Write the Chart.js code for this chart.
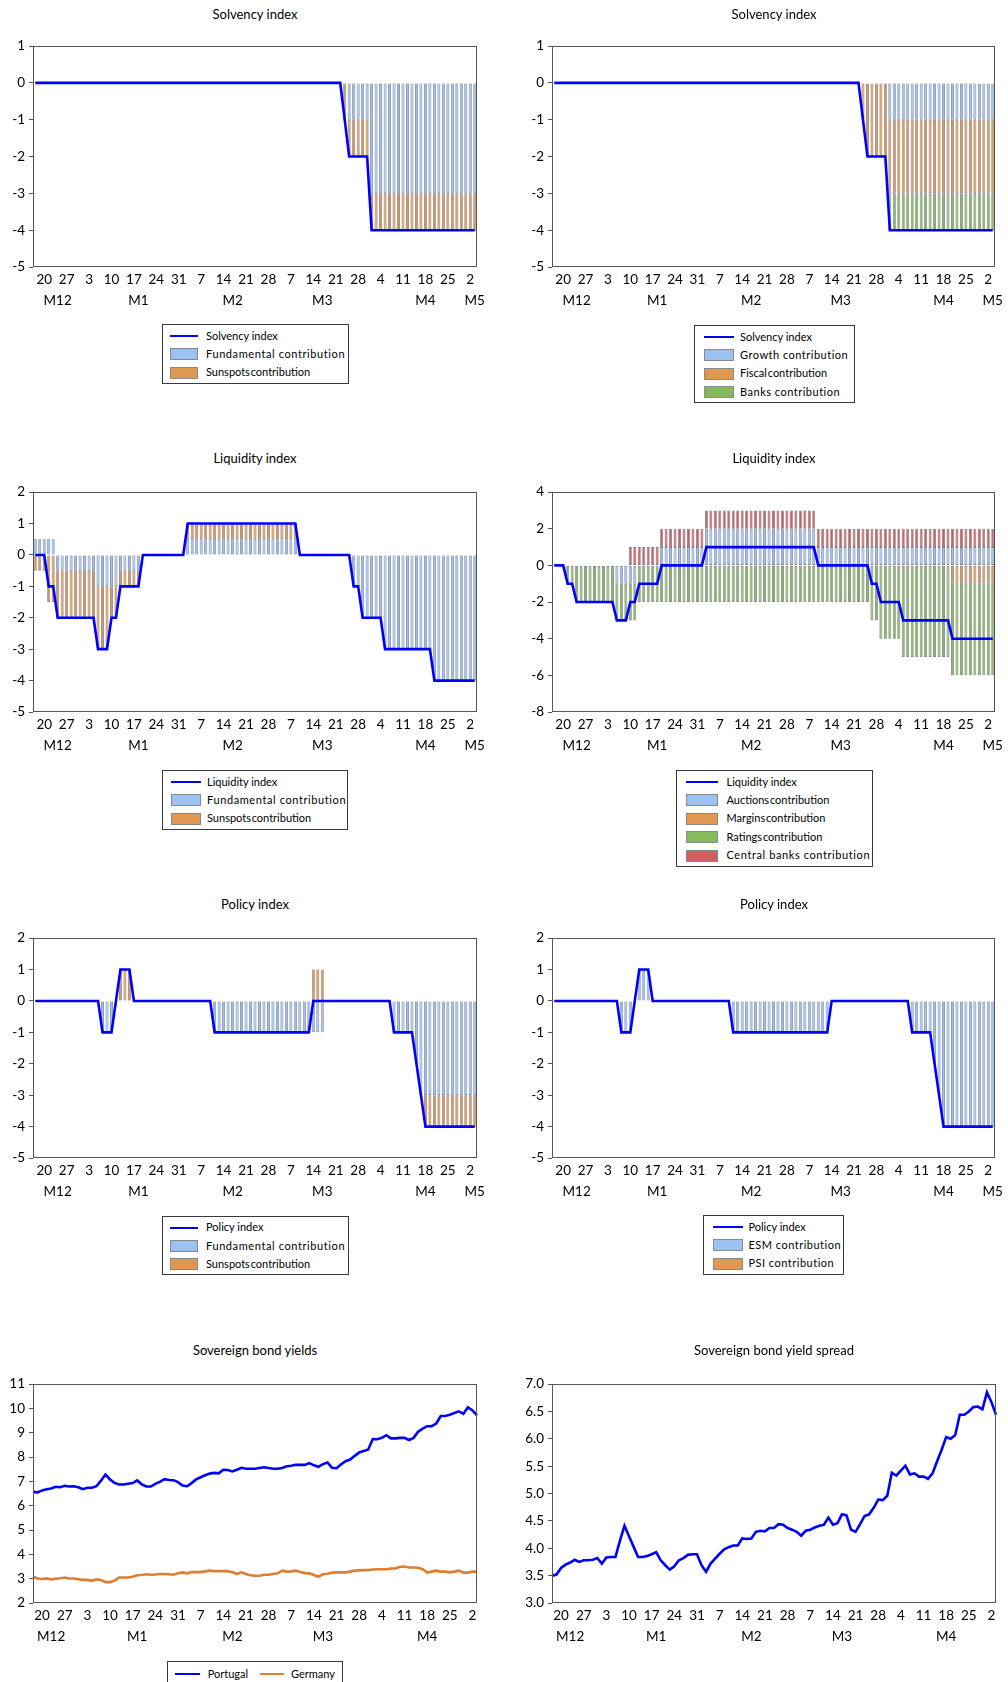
<!DOCTYPE html>
<html>
<head>
<meta charset="utf-8">
<script src="https://cdn.jsdelivr.net/npm/chart.js@4.4.0/dist/chart.umd.min.js"></script>
<style>
  html, body { margin: 0; padding: 0; background: #fff; overflow: hidden; }
  #page { position: relative; width: 1008px; height: 1682px; overflow: hidden; font-family: Lato, "Noto Sans", sans-serif; color: #000; }
  .ttl { position: absolute; text-align: center; font-size: 13px; line-height: 16px; white-space: nowrap; }
  .lg { position: absolute; border: 1px solid #3a3a3a; background: #fff; box-sizing: border-box; font-size: 11px; }
  .lg .sw { position: absolute; box-sizing: border-box; }
  .lg .tx { position: absolute; line-height: 16px; white-space: nowrap; }
</style>
</head>
<body>
<div id="page"></div>
<script>
// ---- Observation dates (business days) ----
const dates = [
  '2010-12-16','2010-12-17','2010-12-20','2010-12-21','2010-12-22','2010-12-23','2010-12-24','2010-12-27','2010-12-28','2010-12-29','2010-12-30','2010-12-31',
  '2011-01-03','2011-01-04','2011-01-05','2011-01-06','2011-01-07','2011-01-10','2011-01-11','2011-01-12','2011-01-13','2011-01-14',
  '2011-01-17','2011-01-18','2011-01-19','2011-01-20','2011-01-21','2011-01-24','2011-01-25','2011-01-26','2011-01-27','2011-01-28','2011-01-31',
  '2011-02-01','2011-02-02','2011-02-03','2011-02-04','2011-02-07','2011-02-08','2011-02-09','2011-02-10','2011-02-11','2011-02-14',
  '2011-02-15','2011-02-16','2011-02-17','2011-02-18','2011-02-21','2011-02-22','2011-02-23','2011-02-24','2011-02-25','2011-02-28',
  '2011-03-01','2011-03-02','2011-03-03','2011-03-04','2011-03-07','2011-03-08','2011-03-09','2011-03-10','2011-03-11','2011-03-14',
  '2011-03-15','2011-03-16','2011-03-17','2011-03-18','2011-03-21','2011-03-22','2011-03-23','2011-03-24','2011-03-25','2011-03-28',
  '2011-03-29','2011-03-30','2011-03-31',
  '2011-04-01','2011-04-04','2011-04-05','2011-04-06','2011-04-07','2011-04-08','2011-04-11','2011-04-12','2011-04-13','2011-04-14',
  '2011-04-15','2011-04-18','2011-04-19','2011-04-20','2011-04-21','2011-04-22','2011-04-25','2011-04-26','2011-04-27','2011-04-28','2011-04-29',
  '2011-05-02','2011-05-03'
];

// Weekly (Monday) tick dates and month labels
const weekTickDates = ['2010-12-20','2010-12-27','2011-01-03','2011-01-10','2011-01-17','2011-01-24','2011-01-31','2011-02-07','2011-02-14','2011-02-21',
  '2011-02-28','2011-03-07','2011-03-14','2011-03-21','2011-03-28','2011-04-04','2011-04-11','2011-04-18','2011-04-25','2011-05-02'];
const monthLabels = ['M12','M1','M2','M3','M4','M5'];
const monthDatesBars = ['2010-12-23','2011-01-18','2011-02-16','2011-03-16','2011-04-18','2011-05-03'];
const monthDatesLines = ['2010-12-22','2011-01-18','2011-02-16','2011-03-16','2011-04-18'];

// ---- Solvency ----
const solvencyIndex = [
  0,0,0,0,0,0,0,0,0,0, 0,0,0,0,0,0,0,0,0,0,
  0,0,0,0,0,0,0,0,0,0, 0,0,0,0,0,0,0,0,0,0,
  0,0,0,0,0,0,0,0,0,0, 0,0,0,0,0,0,0,0,0,0,
  0,0,0,0,0,0,0,0,0,-1, -2,-2,-2,-2,-2,-4,-4,-4,-4,-4,
  -4,-4,-4,-4,-4,-4,-4,-4,-4,-4, -4,-4,-4,-4,-4,-4,-4,-4,-4
];
const solvFundamental = [
  0,0,0,0,0,0,0,0,0,0, 0,0,0,0,0,0,0,0,0,0,
  0,0,0,0,0,0,0,0,0,0, 0,0,0,0,0,0,0,0,0,0,
  0,0,0,0,0,0,0,0,0,0, 0,0,0,0,0,0,0,0,0,0,
  0,0,0,0,0,0,0,0,0,0, -1,-1,-1,-1,-1,-3,-3,-3,-3,-3,
  -3,-3,-3,-3,-3,-3,-3,-3,-3,-3, -3,-3,-3,-3,-3,-3,-3,-3,-3
];
const solvSunspots = [
  0,0,0,0,0,0,0,0,0,0, 0,0,0,0,0,0,0,0,0,0,
  0,0,0,0,0,0,0,0,0,0, 0,0,0,0,0,0,0,0,0,0,
  0,0,0,0,0,0,0,0,0,0, 0,0,0,0,0,0,0,0,0,0,
  0,0,0,0,0,0,0,0,0,-1, -1,-1,-1,-1,-1,-1,-1,-1,-1,-1,
  -1,-1,-1,-1,-1,-1,-1,-1,-1,-1, -1,-1,-1,-1,-1,-1,-1,-1,-1
];
const solvGrowth = [
  0,0,0,0,0,0,0,0,0,0, 0,0,0,0,0,0,0,0,0,0,
  0,0,0,0,0,0,0,0,0,0, 0,0,0,0,0,0,0,0,0,0,
  0,0,0,0,0,0,0,0,0,0, 0,0,0,0,0,0,0,0,0,0,
  0,0,0,0,0,0,0,0,0,0, 0,0,0,0,0,-1,-1,-1,-1,-1,
  -1,-1,-1,-1,-1,-1,-1,-1,-1,-1, -1,-1,-1,-1,-1,-1,-1,-1,-1
];
const solvFiscal = [
  0,0,0,0,0,0,0,0,0,0, 0,0,0,0,0,0,0,0,0,0,
  0,0,0,0,0,0,0,0,0,0, 0,0,0,0,0,0,0,0,0,0,
  0,0,0,0,0,0,0,0,0,0, 0,0,0,0,0,0,0,0,0,0,
  0,0,0,0,0,0,0,0,0,-1, -2,-2,-2,-2,-2,-2,-2,-2,-2,-2,
  -2,-2,-2,-2,-2,-2,-2,-2,-2,-2, -2,-2,-2,-2,-2,-2,-2,-2,-2
];
const solvBanks = [
  0,0,0,0,0,0,0,0,0,0, 0,0,0,0,0,0,0,0,0,0,
  0,0,0,0,0,0,0,0,0,0, 0,0,0,0,0,0,0,0,0,0,
  0,0,0,0,0,0,0,0,0,0, 0,0,0,0,0,0,0,0,0,0,
  0,0,0,0,0,0,0,0,0,0, 0,0,0,0,0,-1,-1,-1,-1,-1,
  -1,-1,-1,-1,-1,-1,-1,-1,-1,-1, -1,-1,-1,-1,-1,-1,-1,-1,-1
];

// ---- Liquidity ----
const liquidityIndex = [
  0,0,0,-1,-1,-2,-2,-2,-2,-2, -2,-2,-2,-2,-3,-3,-3,-2,-2,-1,
  -1,-1,-1,-1,0,0,0,0,0,0, 0,0,0,0,1,1,1,1,1,1,
  1,1,1,1,1,1,1,1,1,1, 1,1,1,1,1,1,1,1,1,0,
  0,0,0,0,0,0,0,0,0,0, 0,-1,-1,-2,-2,-2,-2,-2,-3,-3,
  -3,-3,-3,-3,-3,-3,-3,-3,-3,-4, -4,-4,-4,-4,-4,-4,-4,-4,-4
];
const liqFundamental = [
  0.5,0.5,0.5,0.5,0.5,-0.5,-0.5,-0.5,-0.5,-0.5, -0.5,-0.5,-0.5,-0.5,-1,-1,-1,-1,-1,-0.5,
  -0.5,-0.5,-0.5,-0.5,0,0,0,0,0,0, 0,0,0,0,0.5,0.5,0.5,0.5,0.5,0.5,
  0.5,0.5,0.5,0.5,0.5,0.5,0.5,0.5,0.5,0.5, 0.5,0.5,0.5,0.5,0.5,0.5,0.5,0.5,0.5,0,
  0,0,0,0,0,0,0,0,0,0, 0,-1,-1,-2,-2,-2,-2,-2,-3,-3,
  -3,-3,-3,-3,-3,-3,-3,-3,-3,-4, -4,-4,-4,-4,-4,-4,-4,-4,-4
];
const liqSunspots = [
  -0.5,-0.5,-0.5,-1.5,-1.5,-1.5,-1.5,-1.5,-1.5,-1.5, -1.5,-1.5,-1.5,-1.5,-2,-2,-2,-1,-1,-0.5,
  -0.5,-0.5,-0.5,-0.5,0,0,0,0,0,0, 0,0,0,0,0.5,0.5,0.5,0.5,0.5,0.5,
  0.5,0.5,0.5,0.5,0.5,0.5,0.5,0.5,0.5,0.5, 0.5,0.5,0.5,0.5,0.5,0.5,0.5,0.5,0.5,0,
  0,0,0,0,0,0,0,0,0,0, 0,0,0,0,0,0,0,0,0,0,
  0,0,0,0,0,0,0,0,0,0, 0,0,0,0,0,0,0,0,0
];
const liqAuctions = [
  0,0,0,0,0,0,0,0,0,0, 0,0,0,0,-1,-1,-1,-1,-1,0,
  0,0,0,0,1,1,1,1,1,1, 1,1,1,1,2,2,2,2,2,2,
  2,2,2,2,2,2,2,2,2,2, 2,2,2,2,2,2,2,2,2,1,
  1,1,1,1,1,1,1,1,1,1, 1,1,1,1,1,1,1,1,1,1,
  1,1,1,1,1,1,1,1,1,1, 1,1,1,1,1,1,1,1,1
];
const liqMargins = [
  0,0,0,0,0,0,0,0,0,0, 0,0,0,0,0,0,0,0,0,0,
  0,0,0,0,0,0,0,0,0,0, 0,0,0,0,0,0,0,0,0,0,
  0,0,0,0,0,0,0,0,0,0, 0,0,0,0,0,0,0,0,0,0,
  0,0,0,0,0,0,0,0,0,0, 0,0,0,0,0,0,0,0,0,0,
  0,0,0,0,0,0,0,0,0,-1, -1,-1,-1,-1,-1,-1,-1,-1,-1
];
const liqRatings = [
  0,0,0,-1,-1,-2,-2,-2,-2,-2, -2,-2,-2,-2,-2,-2,-2,-2,-2,-2,
  -2,-2,-2,-2,-2,-2,-2,-2,-2,-2, -2,-2,-2,-2,-2,-2,-2,-2,-2,-2,
  -2,-2,-2,-2,-2,-2,-2,-2,-2,-2, -2,-2,-2,-2,-2,-2,-2,-2,-2,-2,
  -2,-2,-2,-2,-2,-2,-2,-2,-2,-2, -2,-3,-3,-4,-4,-4,-4,-4,-5,-5,
  -5,-5,-5,-5,-5,-5,-5,-5,-5,-5, -5,-5,-5,-5,-5,-5,-5,-5,-5
];
const liqCentralBanks = [
  0,0,0,0,0,0,0,0,0,0, 0,0,0,0,0,0,0,1,1,1,
  1,1,1,1,1,1,1,1,1,1, 1,1,1,1,1,1,1,1,1,1,
  1,1,1,1,1,1,1,1,1,1, 1,1,1,1,1,1,1,1,1,1,
  1,1,1,1,1,1,1,1,1,1, 1,1,1,1,1,1,1,1,1,1,
  1,1,1,1,1,1,1,1,1,1, 1,1,1,1,1,1,1,1,1
];

// ---- Policy ----
const policyIndex = [
  0,0,0,0,0,0,0,0,0,0, 0,0,0,0,0,-1,-1,-1,0,1,
  1,1,0,0,0,0,0,0,0,0, 0,0,0,0,0,0,0,0,0,0,
  -1,-1,-1,-1,-1,-1,-1,-1,-1,-1, -1,-1,-1,-1,-1,-1,-1,-1,-1,-1,
  -1,-1,0,0,0,0,0,0,0,0, 0,0,0,0,0,0,0,0,0,0,
  -1,-1,-1,-1,-1,-2,-3,-4,-4,-4, -4,-4,-4,-4,-4,-4,-4,-4,-4
];
const polFundamental = [
  0,0,0,0,0,0,0,0,0,0, 0,0,0,0,0,-1,-1,-1,0,0,
  0,0,0,0,0,0,0,0,0,0, 0,0,0,0,0,0,0,0,0,0,
  -1,-1,-1,-1,-1,-1,-1,-1,-1,-1, -1,-1,-1,-1,-1,-1,-1,-1,-1,-1,
  -1,-1,-1,-1,-1,0,0,0,0,0, 0,0,0,0,0,0,0,0,0,0,
  -1,-1,-1,-1,-1,-2,-3,-3,-3,-3, -3,-3,-3,-3,-3,-3,-3,-3,-3
];
const polSunspots = [
  0,0,0,0,0,0,0,0,0,0, 0,0,0,0,0,0,0,0,0,1,
  1,1,0,0,0,0,0,0,0,0, 0,0,0,0,0,0,0,0,0,0,
  0,0,0,0,0,0,0,0,0,0, 0,0,0,0,0,0,0,0,0,0,
  0,0,1,1,1,0,0,0,0,0, 0,0,0,0,0,0,0,0,0,0,
  0,0,0,0,0,0,0,-1,-1,-1, -1,-1,-1,-1,-1,-1,-1,-1,-1
];
const polESM = [
  0,0,0,0,0,0,0,0,0,0, 0,0,0,0,0,-1,-1,-1,0,1,
  1,1,0,0,0,0,0,0,0,0, 0,0,0,0,0,0,0,0,0,0,
  -1,-1,-1,-1,-1,-1,-1,-1,-1,-1, -1,-1,-1,-1,-1,-1,-1,-1,-1,-1,
  -1,-1,0,0,0,0,0,0,0,0, 0,0,0,0,0,0,0,0,0,0,
  -1,-1,-1,-1,-1,-2,-3,-4,-4,-4, -4,-4,-4,-4,-4,-4,-4,-4,-4
];
const polPSI = [
  0,0,0,0,0,0,0,0,0,0, 0,0,0,0,0,0,0,0,0,0,
  0,0,0,0,0,0,0,0,0,0, 0,0,0,0,0,0,0,0,0,0,
  0,0,0,0,0,0,0,0,0,0, 0,0,0,0,0,0,0,0,0,0,
  0,0,0,0,0,0,0,0,0,0, 0,0,0,0,0,0,0,0,0,0,
  0,0,0,0,0,0,0,0,0,0, 0,0,0,0,0,0,0,0,0
];

// ---- Sovereign 10y yields (%) ----
const portugal = [
  6.57,6.55,6.63,6.68,6.71,6.78,6.76,6.82,6.79,6.80,
  6.76,6.68,6.74,6.74,6.80,7.03,7.28,7.08,6.94,6.87,
  6.87,6.90,6.93,7.04,6.88,6.79,6.79,6.90,6.98,7.09,
  7.06,7.05,6.97,6.83,6.80,6.93,7.08,7.17,7.25,7.32,
  7.35,7.33,7.48,7.47,7.41,7.48,7.56,7.52,7.52,7.52,
  7.55,7.58,7.55,7.52,7.52,7.55,7.62,7.64,7.68,7.68,
  7.68,7.75,7.66,7.60,7.71,7.78,7.56,7.54,7.70,7.83,
  7.90,8.05,8.19,8.25,8.31,8.74,8.73,8.79,8.90,8.77,
  8.77,8.79,8.79,8.70,8.79,9.04,9.17,9.27,9.27,9.38,
  9.69,9.69,9.74,9.81,9.88,9.78,10.05,9.92,9.71
];
const germany = [
  3.08,3.01,2.99,3.01,2.97,3.00,3.02,3.05,3.01,3.01,
  2.98,2.95,2.95,2.91,2.97,2.95,2.86,2.86,2.92,3.05,
  3.05,3.05,3.08,3.14,3.15,3.18,3.16,3.17,3.19,3.19,
  3.18,3.16,3.22,3.26,3.22,3.27,3.27,3.27,3.30,3.33,
  3.31,3.31,3.31,3.31,3.26,3.19,3.26,3.19,3.14,3.12,
  3.12,3.16,3.16,3.19,3.22,3.33,3.29,3.30,3.33,3.27,
  3.23,3.22,3.15,3.08,3.18,3.20,3.25,3.26,3.26,3.26,
  3.29,3.33,3.34,3.35,3.35,3.38,3.39,3.39,3.39,3.42,
  3.42,3.49,3.50,3.46,3.46,3.45,3.39,3.25,3.29,3.33,
  3.29,3.29,3.26,3.29,3.33,3.25,3.25,3.29,3.29
];
const spread = [
  3.50,3.52,3.64,3.70,3.74,3.79,3.75,3.78,3.78,3.79,
  3.82,3.72,3.83,3.84,3.84,4.14,4.41,4.22,4.03,3.84,
  3.84,3.86,3.89,3.93,3.78,3.69,3.61,3.67,3.78,3.82,
  3.88,3.89,3.89,3.69,3.57,3.72,3.81,3.90,3.98,4.02,
  4.05,4.05,4.18,4.17,4.18,4.30,4.32,4.31,4.37,4.37,
  4.44,4.43,4.37,4.34,4.30,4.23,4.32,4.34,4.38,4.41,
  4.43,4.56,4.43,4.46,4.62,4.60,4.34,4.30,4.44,4.59,
  4.62,4.74,4.89,4.88,4.96,5.38,5.33,5.42,5.51,5.35,
  5.37,5.31,5.31,5.27,5.37,5.59,5.80,6.03,6.00,6.07,
  6.44,6.44,6.50,6.58,6.59,6.54,6.85,6.67,6.44
];

// ---- Styling ----
const FONT = 'Lato, "Noto Sans", sans-serif';
const INDEX_BLUE = '#0000ff';
const FILL = { blue: '#9cc2f4', orange: '#e0974f', green: '#86b95b', red: '#d25f5f' };
const GERMANY_ORANGE = '#e07d2e';
const BAR_EDGE = 'rgba(95,95,110,0.85)';
const AXIS_GREY = '#555555';

Chart.defaults.font.family = FONT;
Chart.defaults.color = '#000';

const page = document.getElementById('page');

// Box around the plot area
const framePlugin = {
  id: 'frame',
  afterDraw(chart) {
    const a = chart.chartArea, ctx = chart.ctx;
    const l = Math.round(a.left) + 0.5, t = Math.round(a.top) + 0.5;
    const r = Math.round(a.right) - 0.5, b = Math.round(a.bottom) - 0.5;
    ctx.save();
    ctx.strokeStyle = AXIS_GREY;
    ctx.lineWidth = 1;
    ctx.strokeRect(l, t, r - l, b - t);
    ctx.restore();
  }
};

const dayLabel = d => String(parseInt(d.slice(8), 10));

function xScales(offset, monthDates) {
  const tickFont = { family: FONT, size: 13.5 };
  return {
    x: {
      type: 'category', position: 'bottom', offset, stacked: true, weight: 0,
      grid: { display: false, drawTicks: false }, border: { display: false },
      ticks: {
        autoSkip: false, maxRotation: 0, minRotation: 0, padding: 5, color: '#000', font: tickFont,
        callback: (v, i) => weekTickDates.includes(dates[i]) ? dayLabel(dates[i]) : ''
      },
      afterFit: s => { s.height = 21; }
    },
    xm: {
      type: 'category', position: 'bottom', offset, weight: 1,
      grid: { display: false, drawTicks: false }, border: { display: false },
      ticks: {
        autoSkip: false, maxRotation: 0, minRotation: 0, padding: 5, color: '#000', font: tickFont,
        callback: (v, i) => { const k = monthDates.indexOf(dates[i]); return k >= 0 ? monthLabels[k] : ''; }
      },
      afterFit: s => { s.height = 22; }
    }
  };
}

function legendBox(spec, items) {
  if (!spec) return;
  const box = document.createElement('div');
  box.className = 'lg';
  const n = items.length;
  const h = spec.h || (spec.row0 + spec.dy * (n - 1) + 12);
  Object.assign(box.style, { left: spec.x + 'px', top: spec.y + 'px', width: spec.w + 'px', height: h + 'px' });
  items.forEach((it, k) => {
    const horiz = !!spec.cols;
    const cy = horiz ? spec.row0 : spec.row0 + spec.dy * k;
    const sx = horiz ? spec.cols[k].sx : spec.sx;
    const sw = horiz ? spec.cols[k].sw : spec.sw;
    const tx = horiz ? spec.cols[k].tx : spec.tx;
    const s = document.createElement('div');
    s.className = 'sw';
    if (it.kind === 'line') {
      Object.assign(s.style, { left: sx + 'px', top: (cy - 1) + 'px', width: sw + 'px', height: '2px', background: it.color });
    } else {
      Object.assign(s.style, { left: sx + 'px', top: (cy - 6) + 'px', width: sw + 'px', height: '12px', background: it.color, border: '1px solid #8a8a8a' });
    }
    box.appendChild(s);
    const t = document.createElement('div');
    t.className = 'tx';
    t.textContent = it.label;
    Object.assign(t.style, { left: tx + 'px', top: (cy - 8.5) + 'px', letterSpacing: (it.ls || 0) + 'px', wordSpacing: (it.ws || 0) + 'px' });
    box.appendChild(t);
  });
  page.appendChild(box);
}

function panel(p) {
  const [L, T, R, B] = p.plot;
  const PADT = 10;
  const W = p.cw, H = (B - T) + PADT + 21 + 22;
  const cv = document.createElement('canvas');
  cv.width = W; cv.height = H;
  cv.style.cssText = `position:absolute;left:${p.cl}px;top:${T - PADT}px;width:${W}px;height:${H}px;`;
  page.appendChild(cv);

  const ttl = document.createElement('div');
  ttl.className = 'ttl';
  ttl.textContent = p.title;
  Object.assign(ttl.style, { left: L + 'px', width: (R - L) + 'px', top: (p.titleY - 8) + 'px' });
  page.appendChild(ttl);

  const isBar = !!p.bars;
  const datasets = [];
  const legendItems = [];
  p.lines.forEach(ln => {
    datasets.push({
      type: 'line', label: ln.label, data: ln.data, borderColor: ln.color, borderWidth: 2.6,
      pointRadius: 0, pointHoverRadius: 0, tension: 0, fill: false, stack: 'index', order: 0
    });
    legendItems.push({ kind: 'line', label: ln.label, color: ln.color, ls: ln.ls, ws: ln.ws });
  });
  (p.bars || []).forEach(b => {
    datasets.push({
      type: 'bar', label: b.label, data: b.data.map(v => v === 0 ? null : v),
      backgroundColor: b.color, borderColor: BAR_EDGE, borderWidth: 0.8, borderSkipped: false,
      barPercentage: 0.66, categoryPercentage: 1.0, stack: 'parts', order: 1
    });
    legendItems.push({ kind: 'box', label: b.label, color: b.color, ls: b.ls, ws: b.ws });
  });

  const scales = xScales(isBar, isBar ? monthDatesBars : monthDatesLines);
  scales.y = {
    type: 'linear', position: 'left', min: p.yMin, max: p.yMax, stacked: isBar,
    grid: { drawOnChartArea: false, drawTicks: true, tickLength: 4, color: AXIS_GREY },
    border: { display: false },
    ticks: {
      stepSize: p.yStep, padding: 4, color: '#000', font: { family: FONT, size: 13.5 },
      callback: v => p.yDec ? Number(v).toFixed(p.yDec) : String(v)
    },
    afterFit: s => { s.width = L - p.cl; }
  };

  new Chart(cv, {
    type: isBar ? 'bar' : 'line',
    data: { labels: dates, datasets },
    options: {
      responsive: false, animation: false, devicePixelRatio: 1,
      layout: { padding: { top: PADT, right: p.cl + W - R, left: 0, bottom: 0 } },
      plugins: { legend: { display: false }, tooltip: { enabled: false }, title: { display: false } },
      scales
    },
    plugins: [framePlugin]
  });

  legendBox(p.legend, legendItems);
}

const LEFT = { cl: 0, cw: 512 };
const RIGHT = { cl: 508, cw: 500 };

// Row 1: solvency
panel({ ...LEFT, plot: [33, 44, 477, 267], title: 'Solvency index', titleY: 14, yMin: -5, yMax: 1, yStep: 1,
  lines: [{ label: 'Solvency index', data: solvencyIndex, color: INDEX_BLUE }],
  bars: [
    { label: 'Fundamental contribution', data: solvFundamental, color: FILL.blue, ls: 0.6 },
    { label: 'Sunspots contribution', data: solvSunspots, color: FILL.orange, ws: -2 }
  ],
  legend: { x: 161.7, y: 324, w: 187.3, sx: 7.6, sw: 28, tx: 43.3, row0: 11, dy: 18.4 } });

panel({ ...RIGHT, plot: [552, 44, 996, 267], title: 'Solvency index', titleY: 14, yMin: -5, yMax: 1, yStep: 1,
  lines: [{ label: 'Solvency index', data: solvencyIndex, color: INDEX_BLUE }],
  bars: [
    { label: 'Growth contribution', data: solvGrowth, color: FILL.blue, ls: 0.5 },
    { label: 'Fiscal contribution', data: solvFiscal, color: FILL.orange, ws: -2 },
    { label: 'Banks contribution', data: solvBanks, color: FILL.green, ls: 0.5 }
  ],
  legend: { x: 694, y: 325, w: 161, sx: 8.5, sw: 30, tx: 45, row0: 11, dy: 18.4 } });

// Row 2: liquidity
panel({ ...LEFT, plot: [33, 490, 477, 712], title: 'Liquidity index', titleY: 458, yMin: -5, yMax: 2, yStep: 1,
  lines: [{ label: 'Liquidity index', data: liquidityIndex, color: INDEX_BLUE }],
  bars: [
    { label: 'Fundamental contribution', data: liqFundamental, color: FILL.blue, ls: 0.6 },
    { label: 'Sunspots contribution', data: liqSunspots, color: FILL.orange, ws: -2 }
  ],
  legend: { x: 162, y: 770, w: 185.5, sx: 7.5, sw: 30, tx: 44, row0: 11, dy: 18.4 } });

panel({ ...RIGHT, plot: [552, 490, 996, 712], title: 'Liquidity index', titleY: 458, yMin: -8, yMax: 4, yStep: 2,
  lines: [{ label: 'Liquidity index', data: liquidityIndex, color: INDEX_BLUE }],
  bars: [
    { label: 'Auctions contribution', data: liqAuctions, color: FILL.blue, ws: -2 },
    { label: 'Margins contribution', data: liqMargins, color: FILL.orange, ws: -2 },
    { label: 'Ratings contribution', data: liqRatings, color: FILL.green, ws: -2 },
    { label: 'Central banks contribution', data: liqCentralBanks, color: FILL.red, ls: 0.6 }
  ],
  legend: { x: 675.5, y: 770, w: 197, sx: 9, sw: 32.5, tx: 50, row0: 11, dy: 18.4 } });

// Row 3: policy
panel({ ...LEFT, plot: [33, 936, 477, 1158], title: 'Policy index', titleY: 904, yMin: -5, yMax: 2, yStep: 1,
  lines: [{ label: 'Policy index', data: policyIndex, color: INDEX_BLUE }],
  bars: [
    { label: 'Fundamental contribution', data: polFundamental, color: FILL.blue, ls: 0.6 },
    { label: 'Sunspots contribution', data: polSunspots, color: FILL.orange, ws: -2 }
  ],
  legend: { x: 161.7, y: 1215.7, w: 187.3, sx: 7.6, sw: 28, tx: 43.3, row0: 11, dy: 18.4 } });

panel({ ...RIGHT, plot: [552, 936, 996, 1158], title: 'Policy index', titleY: 904, yMin: -5, yMax: 2, yStep: 1,
  lines: [{ label: 'Policy index', data: policyIndex, color: INDEX_BLUE }],
  bars: [
    { label: 'ESM contribution', data: polESM, color: FILL.blue, ls: 0.5 },
    { label: 'PSI contribution', data: polPSI, color: FILL.orange, ls: 0.5 }
  ],
  legend: { x: 703.4, y: 1215, w: 140.5, sx: 8.6, sw: 30, tx: 44, row0: 11, dy: 18.4 } });

// Row 4: yields and spread
panel({ ...LEFT, plot: [33, 1382, 477, 1603], title: 'Sovereign bond yields', titleY: 1350, yMin: 2, yMax: 11, yStep: 1,
  lines: [
    { label: 'Portugal', data: portugal, color: INDEX_BLUE },
    { label: 'Germany', data: germany, color: GERMANY_ORANGE }
  ],
  legend: { x: 166.7, y: 1661, w: 176.3, h: 26, row0: 12, cols: [{ sx: 7.3, sw: 25, tx: 40 }, { sx: 92.3, sw: 24, tx: 123.3 }] } });

panel({ ...RIGHT, plot: [552, 1382, 996, 1603], title: 'Sovereign bond yield spread', titleY: 1350, yMin: 3, yMax: 7, yStep: 0.5, yDec: 1,
  lines: [{ label: 'Spread', data: spread, color: INDEX_BLUE }],
  legend: null });
</script>
</body>
</html>
